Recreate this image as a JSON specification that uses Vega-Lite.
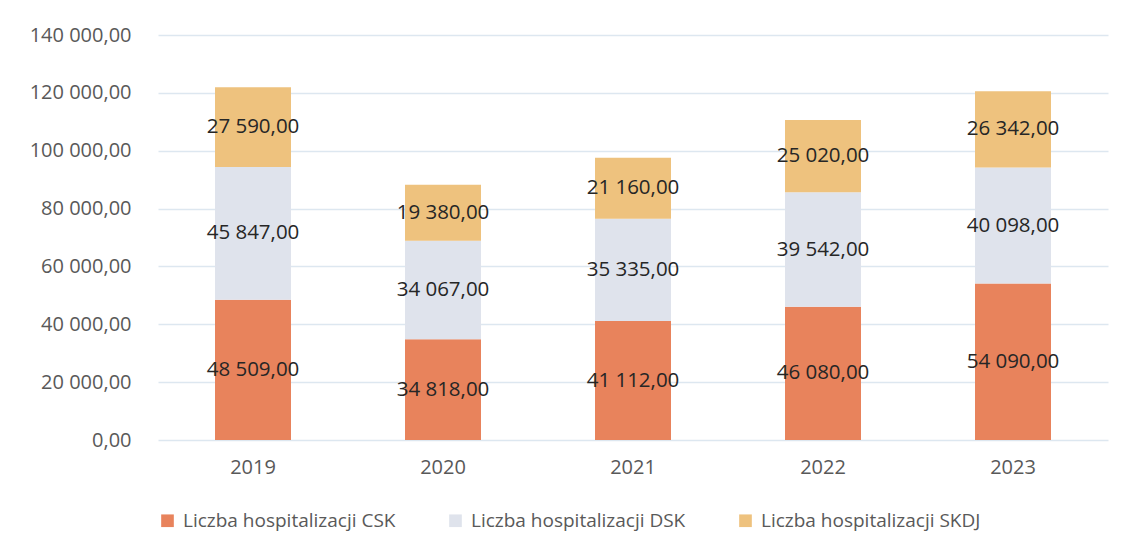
{
  "$schema": "https://vega.github.io/schema/vega-lite/v6.json",
  "width": 950,
  "height": 405,
  "autosize": "none",
  "padding": {"left": 158, "top": 35, "right": 14, "bottom": 113},
  "background": "white",
  "config": {
    "locale": {"number": {"decimal": ",", "thousands": " ", "grouping": [3], "currency": ["", " zł"]}},
    "font": "Open Sans",
    "view": {"stroke": null}
  },
  "data": {
    "values": [
      {"rok": "2019", "seria": "Liczba hospitalizacji CSK", "kolejnosc": 1, "wartosc": 48509},
      {"rok": "2019", "seria": "Liczba hospitalizacji DSK", "kolejnosc": 2, "wartosc": 45847},
      {"rok": "2019", "seria": "Liczba hospitalizacji SKDJ", "kolejnosc": 3, "wartosc": 27590},
      {"rok": "2020", "seria": "Liczba hospitalizacji CSK", "kolejnosc": 1, "wartosc": 34818},
      {"rok": "2020", "seria": "Liczba hospitalizacji DSK", "kolejnosc": 2, "wartosc": 34067},
      {"rok": "2020", "seria": "Liczba hospitalizacji SKDJ", "kolejnosc": 3, "wartosc": 19380},
      {"rok": "2021", "seria": "Liczba hospitalizacji CSK", "kolejnosc": 1, "wartosc": 41112},
      {"rok": "2021", "seria": "Liczba hospitalizacji DSK", "kolejnosc": 2, "wartosc": 35335},
      {"rok": "2021", "seria": "Liczba hospitalizacji SKDJ", "kolejnosc": 3, "wartosc": 21160},
      {"rok": "2022", "seria": "Liczba hospitalizacji CSK", "kolejnosc": 1, "wartosc": 46080},
      {"rok": "2022", "seria": "Liczba hospitalizacji DSK", "kolejnosc": 2, "wartosc": 39542},
      {"rok": "2022", "seria": "Liczba hospitalizacji SKDJ", "kolejnosc": 3, "wartosc": 25020},
      {"rok": "2023", "seria": "Liczba hospitalizacji CSK", "kolejnosc": 1, "wartosc": 54090},
      {"rok": "2023", "seria": "Liczba hospitalizacji DSK", "kolejnosc": 2, "wartosc": 40098},
      {"rok": "2023", "seria": "Liczba hospitalizacji SKDJ", "kolejnosc": 3, "wartosc": 26342}
    ]
  },
  "transform": [
    {"stack": "wartosc", "groupby": ["rok"], "sort": [{"field": "kolejnosc", "order": "ascending"}], "as": ["y0", "y1"]},
    {"calculate": "(datum.y0 + datum.y1) / 2", "as": "srodek"}
  ],
  "encoding": {
    "x": {
      "field": "rok", "type": "ordinal", "title": null,
      "scale": {"paddingInner": 0.6, "paddingOuter": 0.3},
      "axis": {"labelAngle": 0, "labelFontSize": 20, "labelColor": "#595959", "labelPadding": 17, "domain": false, "ticks": false}
    }
  },
  "layer": [
    {
      "mark": {"type": "bar"},
      "encoding": {
        "y": {
          "field": "y1", "type": "quantitative", "title": null,
          "scale": {"domain": [0, 140000]},
          "axis": {"values": [0, 20000, 40000, 60000, 80000, 100000, 120000, 140000], "format": ",.2f", "labelFontSize": 20, "labelColor": "#595959", "labelPadding": 27, "domain": false, "ticks": false, "gridColor": "#dde7f0", "gridWidth": 1.5}
        },
        "y2": {"field": "y0"},
        "color": {
          "field": "seria", "type": "nominal",
          "scale": {"domain": ["Liczba hospitalizacji CSK", "Liczba hospitalizacji DSK", "Liczba hospitalizacji SKDJ"], "range": ["#E8835C", "#DFE3EC", "#EEC27E"]},
          "legend": {"orient": "none", "legendX": 0, "legendY": 476, "direction": "horizontal", "title": null, "labelFontSize": 19, "labelColor": "#595959", "symbolType": "square", "symbolSize": 160, "symbolStrokeWidth": 0, "columnPadding": 50, "labelLimit": 400, "labelOffset": 6}
        }
      }
    },
    {
      "mark": {"type": "text", "fontSize": 20.5, "color": "#262626", "baseline": "middle"},
      "encoding": {
        "y": {"field": "srodek", "type": "quantitative"},
        "text": {"field": "wartosc", "type": "quantitative", "format": ",.2f"}
      }
    }
  ]
}
